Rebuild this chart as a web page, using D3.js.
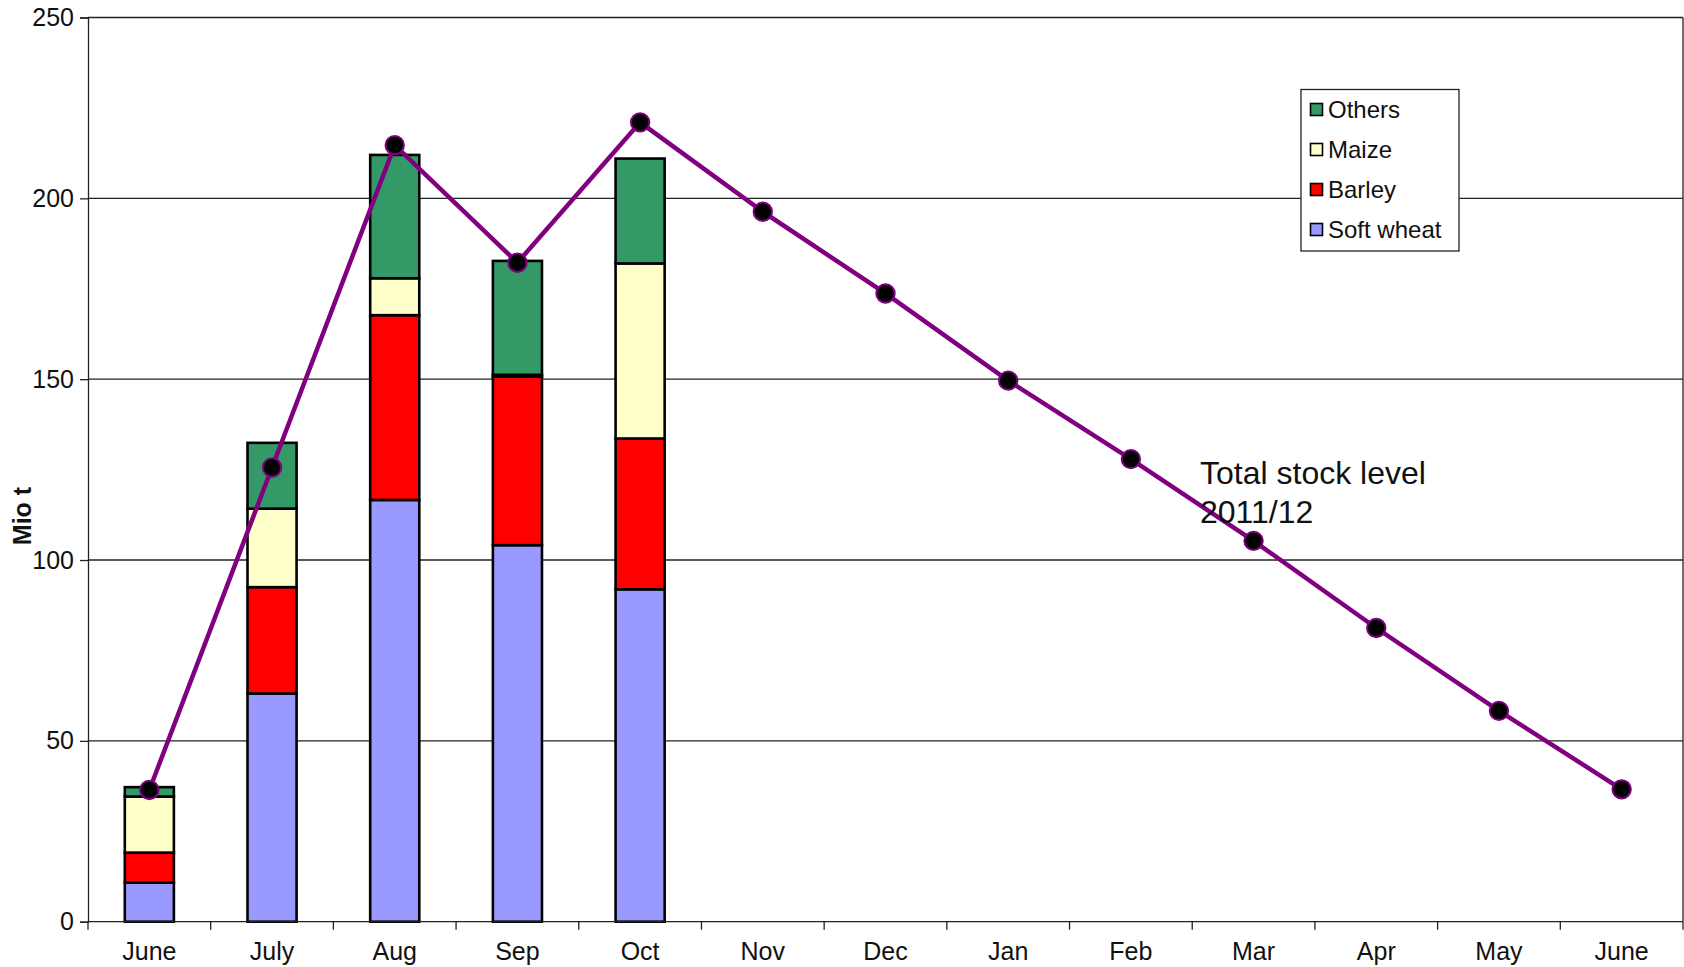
<!DOCTYPE html>
<html>
<head>
<meta charset="utf-8">
<script src="https://cdn.jsdelivr.net/npm/d3@7"></script>
<style>
  body { margin: 0; background: #fff; }
  svg { display: block; font-family: "Liberation Sans", Arial, sans-serif; }
</style>
</head>
<body>
<svg id="chart" width="1684" height="967"></svg>
<script>
// Month labels (13 ticks, June to June)
const months = ["June", "July", "Aug", "Sep", "Oct", "Nov", "Dec", "Jan", "Feb", "Mar", "Apr", "May", "June"];

// Stacked bars, first five months only (Mio t)
const barMonths = [0, 1, 2, 3, 4];
const softWheat = [10.8, 63.1, 116.6, 104.1, 91.9];
const barley    = [8.3, 29.4, 51.1, 46.6, 41.7];
const maize     = [15.5, 21.7, 10.2, 0.5, 48.4];
const others    = [2.6, 18.2, 34.1, 31.5, 29.0];

// Total stock level 2011/12 line
const totalStock = [36.4, 125.6, 214.7, 182.2, 221.0, 196.3, 173.7, 149.6, 127.9, 105.3, 81.2, 58.3, 36.6];

const yTicks = [0, 50, 100, 150, 200, 250];

const seriesNames = ["Soft wheat", "Barley", "Maize", "Others"];
const seriesColors = ["#9999ff", "#ff0000", "#ffffcc", "#339966"];

const margin = { top: 17.5, right: 1, bottom: 45.3, left: 88 };
const width = 1684, height = 967;
const innerW = width - margin.left - margin.right;
const innerH = height - margin.top - margin.bottom;

const svg = d3.select("#chart");
const g = svg.append("g").attr("transform", `translate(${margin.left},${margin.top})`);

const x = d3.scaleBand()
  .domain(d3.range(months.length))
  .range([0, innerW])
  .paddingInner(0)
  .paddingOuter(0);

const y = d3.scaleLinear().domain([0, 250]).range([innerH, 0]);

// Gridlines
g.selectAll(".grid")
  .data(yTicks.filter(d => d > 0))
  .join("line")
  .attr("class", "grid")
  .attr("x1", 0)
  .attr("x2", innerW)
  .attr("y1", d => y(d))
  .attr("y2", d => y(d))
  .attr("stroke", "#222")
  .attr("stroke-width", 1.3);

// Right border of the plot area
g.append("line")
  .attr("x1", innerW).attr("x2", innerW)
  .attr("y1", 0).attr("y2", innerH)
  .attr("stroke", "#222")
  .attr("stroke-width", 1.3);

// Stack the bar data
const rows = barMonths.map((m, i) => ({
  month: m,
  "Soft wheat": softWheat[i],
  "Barley": barley[i],
  "Maize": maize[i],
  "Others": others[i]
}));
const stacked = d3.stack().keys(seriesNames)(rows);

const barW = x.bandwidth() * 0.4;

g.selectAll(".series")
  .data(stacked)
  .join("g")
  .attr("class", "series")
  .attr("fill", (d, i) => seriesColors[i])
  .selectAll("rect")
  .data(d => d)
  .join("rect")
  .attr("x", d => x(d.data.month) + (x.bandwidth() - barW) / 2)
  .attr("y", d => y(d[1]))
  .attr("width", barW)
  .attr("height", d => y(d[0]) - y(d[1]))
  .attr("stroke", "#000")
  .attr("stroke-width", 2.6);

// Axes
const yAxis = d3.axisLeft(y).tickValues(yTicks).tickSize(8).tickPadding(6);
const yg = g.append("g").call(yAxis);
yg.select(".domain").attr("stroke", "#222").attr("stroke-width", 1.3);
yg.selectAll(".tick line").attr("stroke", "#222").attr("stroke-width", 1.3);
yg.selectAll(".tick text")
  .attr("font-size", 25)
  .attr("fill", "#111")
  .attr("font-family", "Liberation Sans, Arial, sans-serif");

const xg = g.append("g").attr("transform", `translate(0,${innerH})`);
xg.append("line")
  .attr("x1", 0).attr("x2", innerW)
  .attr("stroke", "#222").attr("stroke-width", 1.3);
// tick marks sit on category boundaries
xg.selectAll(".xtick")
  .data(d3.range(months.length + 1))
  .join("line")
  .attr("class", "xtick")
  .attr("x1", d => d * x.step())
  .attr("x2", d => d * x.step())
  .attr("y1", 0)
  .attr("y2", 8)
  .attr("stroke", "#222")
  .attr("stroke-width", 1.3);
xg.selectAll(".xlabel")
  .data(months)
  .join("text")
  .attr("class", "xlabel")
  .attr("x", (d, i) => x(i) + x.bandwidth() / 2)
  .attr("y", 38)
  .attr("text-anchor", "middle")
  .attr("font-size", 25)
  .attr("fill", "#111")
  .text(d => d);

// Y axis title
svg.append("text")
  .attr("transform", `translate(31,516) rotate(-90)`)
  .attr("text-anchor", "middle")
  .attr("font-size", 25)
  .attr("font-weight", "bold")
  .attr("fill", "#111")
  .text("Mio t");

// Total stock line
const line = d3.line()
  .x((d, i) => x(i) + x.bandwidth() / 2)
  .y(d => y(d));

g.append("path")
  .datum(totalStock)
  .attr("fill", "none")
  .attr("stroke", "#800080")
  .attr("stroke-width", 4.5)
  .attr("d", line);

g.selectAll(".dot")
  .data(totalStock)
  .join("circle")
  .attr("class", "dot")
  .attr("cx", (d, i) => x(i) + x.bandwidth() / 2)
  .attr("cy", d => y(d))
  .attr("r", 9.2)
  .attr("fill", "#000")
  .attr("stroke", "#800080")
  .attr("stroke-width", 2);

// Annotation
const note = svg.append("text")
  .attr("x", 1200)
  .attr("y", 484)
  .attr("font-size", 32)
  .attr("fill", "#111");
note.append("tspan").attr("x", 1200).text("Total stock level");
note.append("tspan").attr("x", 1200).attr("dy", 38.5).text("2011/12");

// Legend (reverse order: Others on top)
const legend = svg.append("g").attr("transform", "translate(1301,89.5)");
legend.append("rect")
  .attr("width", 158)
  .attr("height", 161.5)
  .attr("fill", "#fff")
  .attr("stroke", "#222")
  .attr("stroke-width", 1.3);

const legendItems = seriesNames.map((n, i) => ({ name: n, color: seriesColors[i] })).reverse();
const li = legend.selectAll(".li")
  .data(legendItems)
  .join("g")
  .attr("class", "li")
  .attr("transform", (d, i) => `translate(0,${20 + i * 40})`);
li.append("rect")
  .attr("x", 9.5)
  .attr("y", -6)
  .attr("width", 12)
  .attr("height", 12)
  .attr("fill", d => d.color)
  .attr("stroke", "#000")
  .attr("stroke-width", 1.6);
li.append("text")
  .attr("x", 27)
  .attr("y", 8)
  .attr("font-size", 24)
  .attr("fill", "#111")
  .text(d => d.name);
</script>
</body>
</html>
